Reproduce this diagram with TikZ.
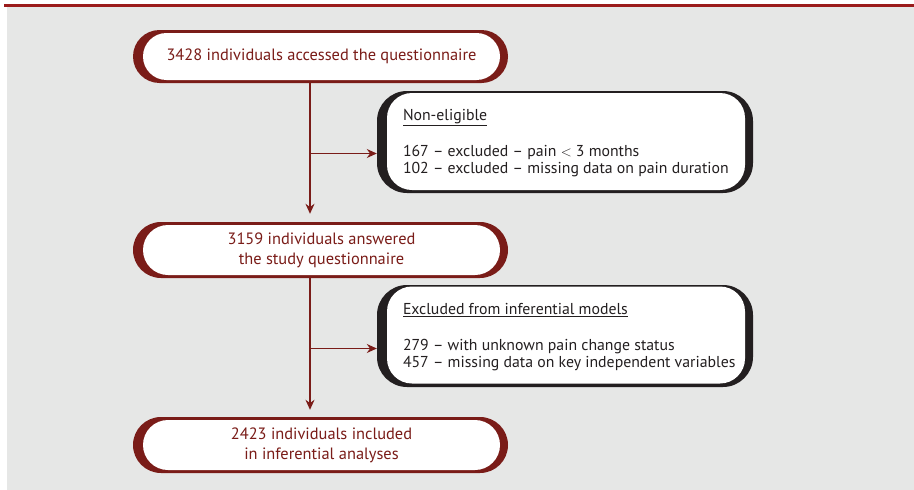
\documentclass[tikz,border=0pt]{standalone}
\usepackage{fontspec}
\setmainfont{PT Sans}
\usepackage{tikz}
\usetikzlibrary{shapes.misc, arrows.meta, positioning}
\definecolor{flowred}{HTML}{7A1C18}
\definecolor{boxdark}{HTML}{231F20}
\definecolor{panelgrey}{HTML}{E6E7E6}
\definecolor{rulered}{HTML}{9B1B1B}
\tikzstyle{redshell} = [rounded rectangle, fill=flowred, minimum width=375pt, inner sep=0pt]
\tikzstyle{redbox} = [rounded rectangle, fill=white, minimum width=357pt, inner sep=0pt, text=flowred, align=center, font=\fontsize{16.4}{20}\selectfont]
\tikzstyle{darkshell} = [rectangle, rounded corners=30pt, fill=boxdark, minimum width=376pt, minimum height=102pt, inner sep=0pt]
\tikzstyle{darkbox} = [rectangle, rounded corners=25pt, fill=white, minimum width=358pt, minimum height=97pt, inner sep=0pt]
\tikzstyle{darktext} = [inner sep=0pt, text=boxdark, align=left, anchor=west, yshift=-2pt, font=\fontsize{15.8}{17}\selectfont]
\tikzstyle{arrow} = [-{Stealth[length=10pt,width=9pt]}, draw=flowred, line width=1.2pt]

\begin{document}
\begin{tikzpicture}[x=1pt, y=-1pt]

    \useasboundingbox (0,0) rectangle (914,490);
    \fill[panelgrey] (7,6) rectangle (914,490);
    \draw[rulered, line width=2.6pt] (4,5.3) -- (914,5.3);

    \node (accessedshell) [redshell, minimum height=53pt] at (320.5,56.5) {};
    \node (accessed) [redbox, minimum height=47pt] at ([xshift=1pt]accessedshell.center) {3428 individuals accessed the questionnaire};

    \node (nonshell) [darkshell] at (565,142) {};
    \node (nonbox) [darkbox] at ([xshift=1pt, yshift=0.5pt]nonshell.center) {};
    \node (noneligible) [darktext, right=16pt of nonbox.west] {\underline{Non-eligible}\\[19pt]167 -- excluded -- pain $<$ 3 months\\102 -- excluded -- missing data on pain duration};

    \node (answeredshell) [redshell, minimum height=56pt] at (320.5,250) {};
    \node (answered) [redbox, minimum height=50pt] at ([xshift=1pt]answeredshell.center) {3159 individuals answered\\the study questionnaire};

    \node (excshell) [darkshell] at (565,336) {};
    \node (excbox) [darkbox] at ([xshift=1pt, yshift=1pt]excshell.center) {};
    \node (excluded) [darktext, right=16pt of excbox.west] {\underline{Excluded from inferential models}\\[19pt]279 -- with unknown pain change status\\457 -- missing data on key independent variables};

    \node (includedshell) [redshell, minimum height=56pt] at (320.5,445) {};
    \node (included) [redbox, minimum height=50pt] at ([xshift=1pt]includedshell.center) {2423 individuals included\\in inferential analyses};

    \coordinate (split1) at (310,153.5);
    \coordinate (split2) at (310,348.5);

    \draw [arrow, shorten >=8pt] (accessedshell.south -| split1) -- (answeredshell.north -| split1);
    \draw [arrow] (split1) -- (split1 -| nonshell.west);
    \draw [arrow, shorten >=7pt] (answeredshell.south -| split2) -- (includedshell.north -| split2);
    \draw [arrow] (split2) -- (split2 -| excshell.west);

\end{tikzpicture}
\end{document}
